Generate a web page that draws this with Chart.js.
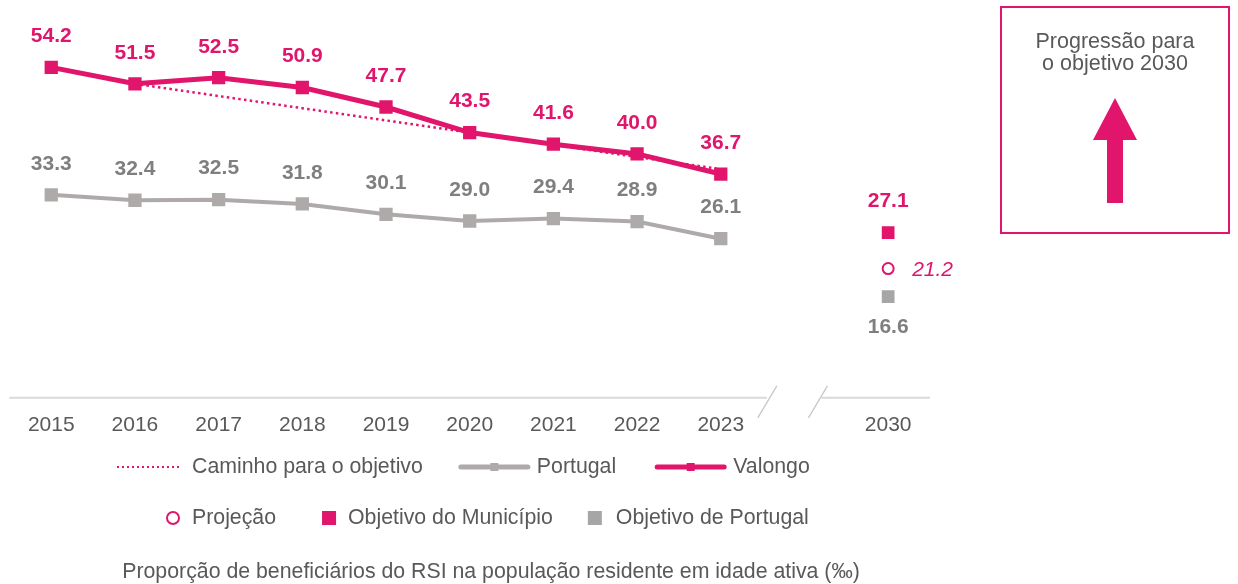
<!DOCTYPE html>
<html lang="pt">
<head>
<meta charset="utf-8">
<title>RSI - Valongo</title>
<script src="https://cdn.jsdelivr.net/npm/chart.js@4.4.1/dist/chart.umd.min.js"></script>
<style>
  html, body { margin: 0; padding: 0; background: #ffffff; }
  #wrap { width: 1238px; height: 584px; position: relative; }
</style>
</head>
<body>
<div id="wrap"><canvas id="rsiChart" width="1238" height="584"></canvas></div>
<script>
// Anos (o rótulo vazio abre o espaço antes de 2030)
const anos = ['2015', '2016', '2017', '2018', '2019', '2020', '2021', '2022', '2023', '', '2030'];

// Séries (‰)
const valongo = [54.2, 51.5, 52.5, 50.9, 47.7, 43.5, 41.6, 40.0, 36.7, null, null];
const portugal = [33.3, 32.4, 32.5, 31.8, 30.1, 29.0, 29.4, 28.9, 26.1, null, null];
const caminhoObjetivo = [null, 51.5, 49.5, 47.5, 45.5, 43.5, 41.5, 39.5, 37.5, null, null];

// Metas 2030
const objetivoMunicipio = [null, null, null, null, null, null, null, null, null, null, 27.1];
const projecao = [null, null, null, null, null, null, null, null, null, null, 21.2];
const objetivoPortugal = [null, null, null, null, null, null, null, null, null, null, 16.6];

const tituloEixo = 'Proporção de beneficiários do RSI na população residente em idade ativa (‰)';
const caixaTexto = ['Progressão para', 'o objetivo 2030'];

const ROSA = '#E0156B';
const CINZA_LINHA = '#AEAAAA';
const CINZA_VALOR = '#7F7F7F';
const CINZA_META = '#A6A6A6';
const TEXTO = '#595959';
const FONTE = '"Liberation Sans", Arial, sans-serif';

// rótulos de valor junto a cada ponto
const valueLabels = {
  id: 'valueLabels',
  afterDatasetsDraw(chart) {
    const ctx = chart.ctx;
    chart.data.datasets.forEach((ds, di) => {
      if (!ds.valueLabel) return;
      const meta = chart.getDatasetMeta(di);
      const cfg = ds.valueLabel;
      meta.data.forEach((pt, i) => {
        const v = ds.data[i];
        if (v === null || v === undefined) return;
        ctx.save();
        ctx.font = cfg.font;
        ctx.fillStyle = cfg.color;
        ctx.textBaseline = 'middle';
        let x = pt.x, y = pt.y;
        if (cfg.pos === 'top') { ctx.textAlign = 'center'; y -= 31; }
        else if (cfg.pos === 'bottom') { ctx.textAlign = 'center'; y += 31; }
        else { ctx.textAlign = 'left'; x += 24; y += 2; }
        ctx.fillText(v.toFixed(1), x, y);
        ctx.restore();
      });
    });
  }
};

// linha do eixo com corte entre 2023 e 2030
const brokenAxis = {
  id: 'brokenAxis',
  afterDraw(chart) {
    const ctx = chart.ctx;
    const xs = chart.scales.x;
    const area = chart.chartArea;
    const gap = anos.indexOf('');
    const xg = xs.getPixelForValue(gap);
    const step = xs.getPixelForValue(1) - xs.getPixelForValue(0);
    const y = area.bottom;
    const cut1 = xg - 0.45 * step;
    const cut2 = xg + 0.155 * step;
    ctx.save();
    ctx.strokeStyle = '#D9D9D9';
    ctx.lineWidth = 2;
    ctx.beginPath();
    ctx.moveTo(area.left, y); ctx.lineTo(cut1, y);
    ctx.moveTo(cut2 + 4, y); ctx.lineTo(area.right, y);
    ctx.stroke();
    ctx.strokeStyle = '#C8C8C8';
    ctx.lineWidth = 1.3;
    ctx.beginPath();
    [cut1, cut2].forEach(cx => {
      ctx.moveTo(cx - 9, y + 20);
      ctx.lineTo(cx + 10, y - 12);
    });
    ctx.stroke();
    ctx.restore();
  }
};

// legenda em duas linhas, título do eixo e caixa da progressão
const extras = {
  id: 'extras',
  afterDraw(chart) {
    const ctx = chart.ctx;
    ctx.save();
    ctx.font = '21.3px ' + FONTE;
    ctx.fillStyle = TEXTO;
    ctx.textBaseline = 'middle';
    ctx.textAlign = 'left';

    // linha 1
    let x = 117, y = 467;
    ctx.strokeStyle = ROSA;
    ctx.lineWidth = 2;
    ctx.setLineDash([2, 3]);
    ctx.beginPath(); ctx.moveTo(x, y); ctx.lineTo(x + 65, y); ctx.stroke();
    ctx.setLineDash([]);
    x += 75;
    ctx.fillText('Caminho para o objetivo', x, y);
    x += ctx.measureText('Caminho para o objetivo').width + 36;

    const lineSample = (col, label) => {
      ctx.strokeStyle = col;
      ctx.lineWidth = 5;
      ctx.lineCap = 'round';
      ctx.beginPath(); ctx.moveTo(x + 2, y); ctx.lineTo(x + 69, y); ctx.stroke();
      ctx.lineCap = 'butt';
      ctx.fillStyle = col;
      ctx.fillRect(x + 31.5, y - 4, 8, 8);
      ctx.fillStyle = TEXTO;
      ctx.fillText(label, x + 78, y);
      x += 78 + ctx.measureText(label).width + 39;
    };
    lineSample(CINZA_LINHA, 'Portugal');
    lineSample(ROSA, 'Valongo');

    // linha 2
    x = 166; y = 518;
    ctx.strokeStyle = ROSA;
    ctx.lineWidth = 2;
    ctx.beginPath(); ctx.arc(x + 7, y, 6, 0, Math.PI * 2); ctx.stroke();
    ctx.fillStyle = TEXTO;
    ctx.fillText('Projeção', x + 26, y);
    x += 26 + ctx.measureText('Projeção').width + 46;
    ctx.fillStyle = ROSA;
    ctx.fillRect(x, y - 7, 14, 14);
    ctx.fillStyle = TEXTO;
    ctx.fillText('Objetivo do Município', x + 26, y);
    x += 26 + ctx.measureText('Objetivo do Município').width + 35;
    ctx.fillStyle = CINZA_META;
    ctx.fillRect(x, y - 7, 14, 14);
    ctx.fillStyle = TEXTO;
    ctx.fillText('Objetivo de Portugal', x + 28, y);

    // título do eixo
    ctx.font = '21.3px ' + FONTE;
    ctx.textAlign = 'center';
    ctx.fillText(tituloEixo, 491, 572);

    // caixa à direita
    ctx.strokeStyle = ROSA;
    ctx.lineWidth = 2;
    ctx.strokeRect(1001, 7, 228, 226);
    ctx.font = '21.5px ' + FONTE;
    ctx.fillStyle = TEXTO;
    ctx.fillText(caixaTexto[0], 1115, 42);
    ctx.fillText(caixaTexto[1], 1115, 64);
    ctx.fillStyle = ROSA;
    ctx.beginPath();
    ctx.moveTo(1115, 98);
    ctx.lineTo(1137, 140);
    ctx.lineTo(1123, 140);
    ctx.lineTo(1123, 203);
    ctx.lineTo(1107, 203);
    ctx.lineTo(1107, 140);
    ctx.lineTo(1093, 140);
    ctx.closePath();
    ctx.fill();
    ctx.restore();
  }
};

const ctx = document.getElementById('rsiChart').getContext('2d');
new Chart(ctx, {
  type: 'line',
  data: {
    labels: anos,
    datasets: [
      {
        label: 'Valongo',
        data: valongo,
        borderColor: ROSA,
        backgroundColor: ROSA,
        borderWidth: 5,
        pointStyle: 'rect',
        pointRadius: 9.4,
        pointBorderWidth: 0,
        order: 1,
        valueLabel: { pos: 'top', color: ROSA, font: 'bold 21px ' + FONTE }
      },
      {
        label: 'Portugal',
        data: portugal,
        borderColor: CINZA_LINHA,
        backgroundColor: CINZA_LINHA,
        borderWidth: 4,
        pointStyle: 'rect',
        pointRadius: 9.4,
        pointBorderWidth: 0,
        order: 3,
        valueLabel: { pos: 'top', color: CINZA_VALOR, font: 'bold 21px ' + FONTE }
      },
      {
        label: 'Caminho para o objetivo',
        data: caminhoObjetivo,
        borderColor: ROSA,
        borderWidth: 2.5,
        borderDash: [2.5, 3.3],
        pointRadius: 0,
        order: 2
      },
      {
        label: 'Objetivo do Município',
        data: objetivoMunicipio,
        showLine: false,
        backgroundColor: ROSA,
        borderColor: ROSA,
        pointStyle: 'rect',
        pointRadius: 9,
        pointBorderWidth: 0,
        order: 0,
        valueLabel: { pos: 'top', color: ROSA, font: 'bold 21px ' + FONTE }
      },
      {
        label: 'Projeção',
        data: projecao,
        showLine: false,
        backgroundColor: '#ffffff',
        borderColor: ROSA,
        pointStyle: 'circle',
        pointRadius: 5.5,
        pointBorderWidth: 2,
        order: 0,
        valueLabel: { pos: 'right', color: ROSA, font: 'italic 21px ' + FONTE }
      },
      {
        label: 'Objetivo de Portugal',
        data: objetivoPortugal,
        showLine: false,
        backgroundColor: CINZA_META,
        borderColor: CINZA_META,
        pointStyle: 'rect',
        pointRadius: 9,
        pointBorderWidth: 0,
        order: 0,
        valueLabel: { pos: 'bottom', color: CINZA_VALOR, font: 'bold 21px ' + FONTE }
      }
    ]
  },
  options: {
    responsive: false,
    animation: false,
    events: [],
    layout: { padding: { left: 9, right: 308, top: 32, bottom: 131 } },
    plugins: {
      legend: { display: false },
      title: { display: false },
      tooltip: { enabled: false }
    },
    scales: {
      x: {
        offset: true,
        border: { display: false },
        grid: { display: false, drawTicks: false },
        ticks: {
          color: TEXTO,
          font: { family: FONTE, size: 21 },
          padding: 15,
          maxRotation: 0,
          autoSkip: false
        }
      },
      y: {
        display: false,
        min: 0,
        max: 60
      }
    }
  },
  plugins: [valueLabels, brokenAxis, extras]
});
</script>
</body>
</html>
